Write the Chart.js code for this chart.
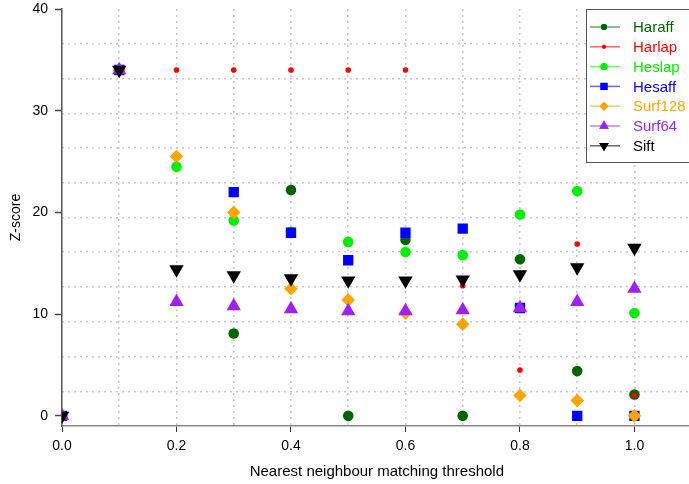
<!DOCTYPE html>
<html>
<head>
<meta charset="utf-8">
<script src="https://cdn.jsdelivr.net/npm/chart.js@4/dist/chart.umd.min.js"></script>
<style>
  html, body { margin: 0; padding: 0; background: #fff; overflow: hidden; }
  #wrap { width: 689px; height: 484px; overflow: hidden; }
</style>
</head>
<body>
<div id="wrap"><canvas id="chart" width="700" height="484"></canvas></div>
<script>
// Nearest neighbour matching threshold
const thresholds = [0.0, 0.1, 0.2, 0.3, 0.4, 0.5, 0.6, 0.7, 0.8, 0.9, 1.0];

// Z-scores per detector (null = no value)
const haraff  = [0, 34, null, 8.1, 22.2, 0, 17.3, 0, 15.4, 4.4, 2.1];
const harlap  = [0, 34, 34, 34, 34, 34, 34, 12.8, 4.5, 16.9, 2.0];
const heslap  = [0, 34, 24.5, 19.2, 18.1, 17.1, 16.1, 15.8, 19.8, 22.1, 10.1];
const hesaff  = [0, 34, null, 22.0, 18.0, 15.3, 18.0, 18.4, 10.6, 0, 0];
const surf128 = [0, 34, 25.5, 20.0, 12.5, 11.4, 10.1, 9.0, 2.0, 1.5, 0];
const surf64  = [0, 34, 11.2, 10.8, 10.5, 10.3, 10.3, 10.4, 10.6, 11.2, 12.5];
const sift    = [0, 34, 14.4, 13.8, 13.5, 13.3, 13.3, 13.4, 13.9, 14.6, 16.5];

const seriesNames = ['Haraff', 'Harlap', 'Heslap', 'Hesaff', 'Surf128', 'Surf64', 'Sift'];
const seriesData = [haraff, harlap, heslap, hesaff, surf128, surf64, sift];
const yTicks = [0, 10, 20, 30, 40];

// marker styles
const styles = [
    { color: '#006400', shape: 'circle', r: 5.3, lr: 3 },
    { color: '#ff0000', shape: 'circle', r: 2.8, lr: 2 },
    { color: '#00ee00', shape: 'circle', r: 5.3, lr: 3.5 },
    { color: '#0000ff', shape: 'rect', r: 7.3, lr: 5 },
    { color: '#ffa500', shape: 'rectRot', r: 6.8, lr: 4.5 },
    { color: '#a020f0', shape: 'triangle', r: 8.3, lr: 5.5 },
    { color: '#000000', shape: 'triangle', r: 8.3, lr: 5.5, rot: 180 }
];

function toPoints(values) {
    const pts = [];
    values.forEach((v, i) => {
        if (v !== null) pts.push({ x: thresholds[i], y: v });
    });
    return pts;
}

const datasets = seriesNames.map((name, i) => ({
    label: name,
    data: toPoints(seriesData[i]),
    showLine: false,
    pointStyle: styles[i].shape,
    pointRadius: styles[i].r,
    pointHoverRadius: styles[i].r,
    pointRotation: styles[i].rot || 0,
    pointBackgroundColor: styles[i].color,
    pointBorderColor: styles[i].color,
    pointBorderWidth: 0,
    backgroundColor: styles[i].color,
    borderColor: styles[i].color,
    clip: 0,
    order: seriesNames.length - i   // later series on top
}));

/**
 * Legend box drawn on the canvas, top right, like the original
 */
const boxLegend = {
    id: 'boxLegend',
    afterDraw(chart) {
        const ctx = chart.ctx;
        const left = 586, top = 9, right = 720, bottom = 162;
        ctx.save();
        ctx.fillStyle = '#fff';
        ctx.fillRect(left, top, right - left, bottom - top);
        ctx.strokeStyle = '#555';
        ctx.lineWidth = 1;
        ctx.strokeRect(left + 0.5, top + 0.5, right - left, bottom - top);
        ctx.font = '15px "Liberation Sans", Arial, sans-serif';
        ctx.textBaseline = 'middle';
        seriesNames.forEach((name, i) => {
            const y = 27 + i * 19.8;
            const s = styles[i];
            ctx.globalAlpha = 0.6;
            ctx.strokeStyle = s.color;
            ctx.lineWidth = 1.5;
            ctx.beginPath();
            ctx.moveTo(590, y);
            ctx.lineTo(620, y);
            ctx.stroke();
            ctx.globalAlpha = 1;
            ctx.fillStyle = s.color;
            Chart.helpers.drawPoint(ctx, {
                pointStyle: s.shape, radius: s.lr, rotation: s.rot || 0, borderWidth: 0
            }, 604, y);
            ctx.fill();
            ctx.fillText(name, 633, y + 1);
        });
        ctx.restore();
    }
};

const font = { family: '"Liberation Sans", Arial, sans-serif', size: 14 };

new Chart(document.getElementById('chart'), {
    type: 'scatter',
    data: { datasets: datasets },
    options: {
        responsive: false,
        animation: false,
        layout: { padding: { top: 0, right: 5, left: 0, bottom: 0 } },
        plugins: {
            legend: { display: false },
            tooltip: { enabled: false }
        },
        scales: {
            x: {
                type: 'linear',
                min: 0,
                max: 1.1,
                afterFit: s => { s.height = 58; },
                ticks: {
                    stepSize: 0.2,
                    includeBounds: false,
                    color: '#000',
                    font: font,
                    padding: 6,
                    maxRotation: 0,
                    callback: v => v.toFixed(1)
                },
                grid: { drawOnChartArea: false, tickLength: 6, tickColor: '#333', tickWidth: 1 },
                border: { color: '#888', width: 1.5 },
                title: {
                    display: true,
                    text: 'Nearest neighbour matching threshold',
                    color: '#000',
                    font: { family: font.family, size: 15 },
                    padding: { top: 0, bottom: 3 }
                }
            },
            xg: {
                type: 'linear',
                position: 'bottom',
                min: 0,
                max: 1.1,
                afterFit: s => { s.height = 0; },
                ticks: { display: false, stepSize: 0.1 },
                grid: {
                    drawTicks: false,
                    color: ctx => ctx.tick && ctx.tick.value < 0.05 ? 'rgba(0,0,0,0)' : '#c8c8c8',
                    lineWidth: 1.5
                },
                border: { display: false, dash: [2, 4] }
            },
            y: {
                type: 'linear',
                min: -1,
                max: 40,
                position: 'left',
                afterFit: s => {
                    s.width = 62;
                    s.paddingTop = 9;
                    s.paddingBottom = 0;
                },
                afterBuildTicks: s => { s.ticks = yTicks.map(v => ({ value: v })); },
                ticks: { color: '#000', font: font, padding: 7 },
                grid: { drawOnChartArea: false, tickLength: 7, tickColor: '#444', tickWidth: 1.5 },
                border: { color: '#555', width: 1.5 },
                title: {
                    display: true,
                    text: 'Z-score',
                    color: '#000',
                    font: font,
                    padding: { top: 8, bottom: 0 }
                }
            },
            yg: {
                type: 'linear',
                position: 'left',
                min: 0,
                max: 12,
                afterFit: s => { s.width = 0; s.paddingTop = 0; s.paddingBottom = 0; },
                ticks: { display: false, stepSize: 1 },
                grid: {
                    drawTicks: false,
                    color: ctx => ctx.tick && (ctx.tick.value === 0 || ctx.tick.value === 12) ? 'rgba(0,0,0,0)' : '#c8c8c8',
                    lineWidth: 1.5
                },
                border: { display: false, dash: [2, 4] }
            }
        }
    },
    plugins: [boxLegend]
});
</script>
</body>
</html>
